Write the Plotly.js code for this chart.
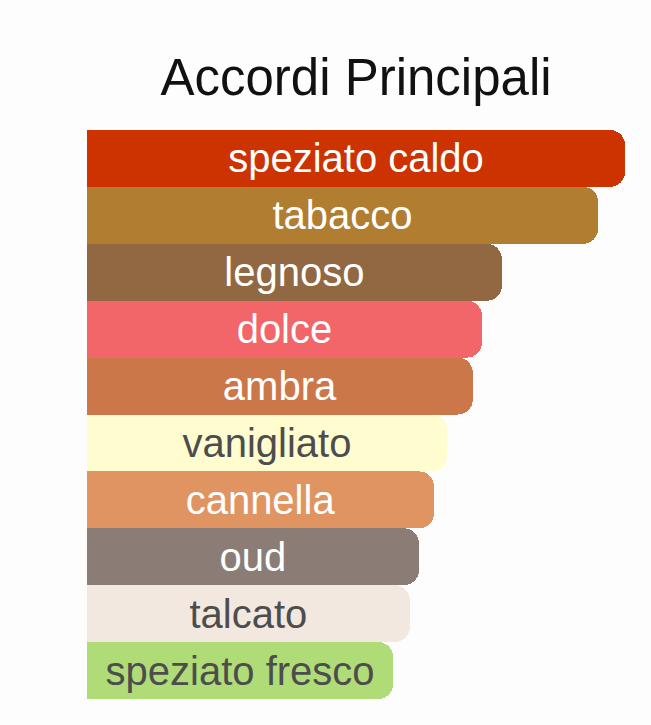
<!DOCTYPE html>
<html>
<head>
<meta charset="utf-8">
<script src="https://cdn.plot.ly/plotly-3.0.1.min.js"></script>
<style>
  html, body { margin: 0; padding: 0; background: #fdfdfd; }
  #grafico { width: 651px; height: 725px; }
</style>
</head>
<body>
<div id="grafico"></div>
<script>
// accordi e intensita' (percentuale rispetto al principale)
const accordi = ['speziato caldo', 'tabacco', 'legnoso', 'dolce', 'ambra',
  'vanigliato', 'cannella', 'oud', 'talcato', 'speziato fresco'];
const intensita = [100, 95, 77.1, 73.4, 71.7, 66.9, 64.5, 61.7, 60.0, 56.9];
const coloriBarre = ['#cc3300', '#b07d31', '#926843', '#f26569', '#cc774a',
  '#fffdd0', '#e09461', '#8b7d75', '#f2e8df', '#b0dc78'];
const coloriTesto = ['#ffffff', '#ffffff', '#ffffff', '#ffffff', '#ffffff',
  '#4d4d4d', '#ffffff', '#ffffff', '#4d4d4d', '#4d4d4d'];

const barre = {
  type: 'bar',
  orientation: 'h',
  x: intensita,
  y: accordi,
  text: accordi,
  textposition: 'inside',
  insidetextanchor: 'middle',
  constraintext: 'none',
  textfont: { family: 'Liberation Sans, Arial, sans-serif', size: 40, color: coloriTesto },
  marker: { color: coloriBarre, line: { width: 0 } },
  hoverinfo: 'none'
};

var layout = {
  width: 651,
  height: 725,
  margin: { l: 87, r: 26, t: 130, b: 26 },
  paper_bgcolor: '#fdfdfd',
  plot_bgcolor: '#fdfdfd',
  title: {
    text: 'Accordi Principali',
    font: { family: 'Liberation Sans, Arial, sans-serif', size: 51, color: '#111111' },
    xref: 'paper',
    x: 0.5,
    xanchor: 'center',
    yref: 'container',
    y: 0.893,
    yanchor: 'middle'
  },
  bargap: 0,
  barcornerradius: 15,
  showlegend: false,
  xaxis: { range: [0, 100], visible: false, fixedrange: true },
  yaxis: { autorange: 'reversed', visible: false, fixedrange: true }
};

Plotly.newPlot('grafico', [barre], layout, { displayModeBar: false, staticPlot: true });
</script>
</body>
</html>
